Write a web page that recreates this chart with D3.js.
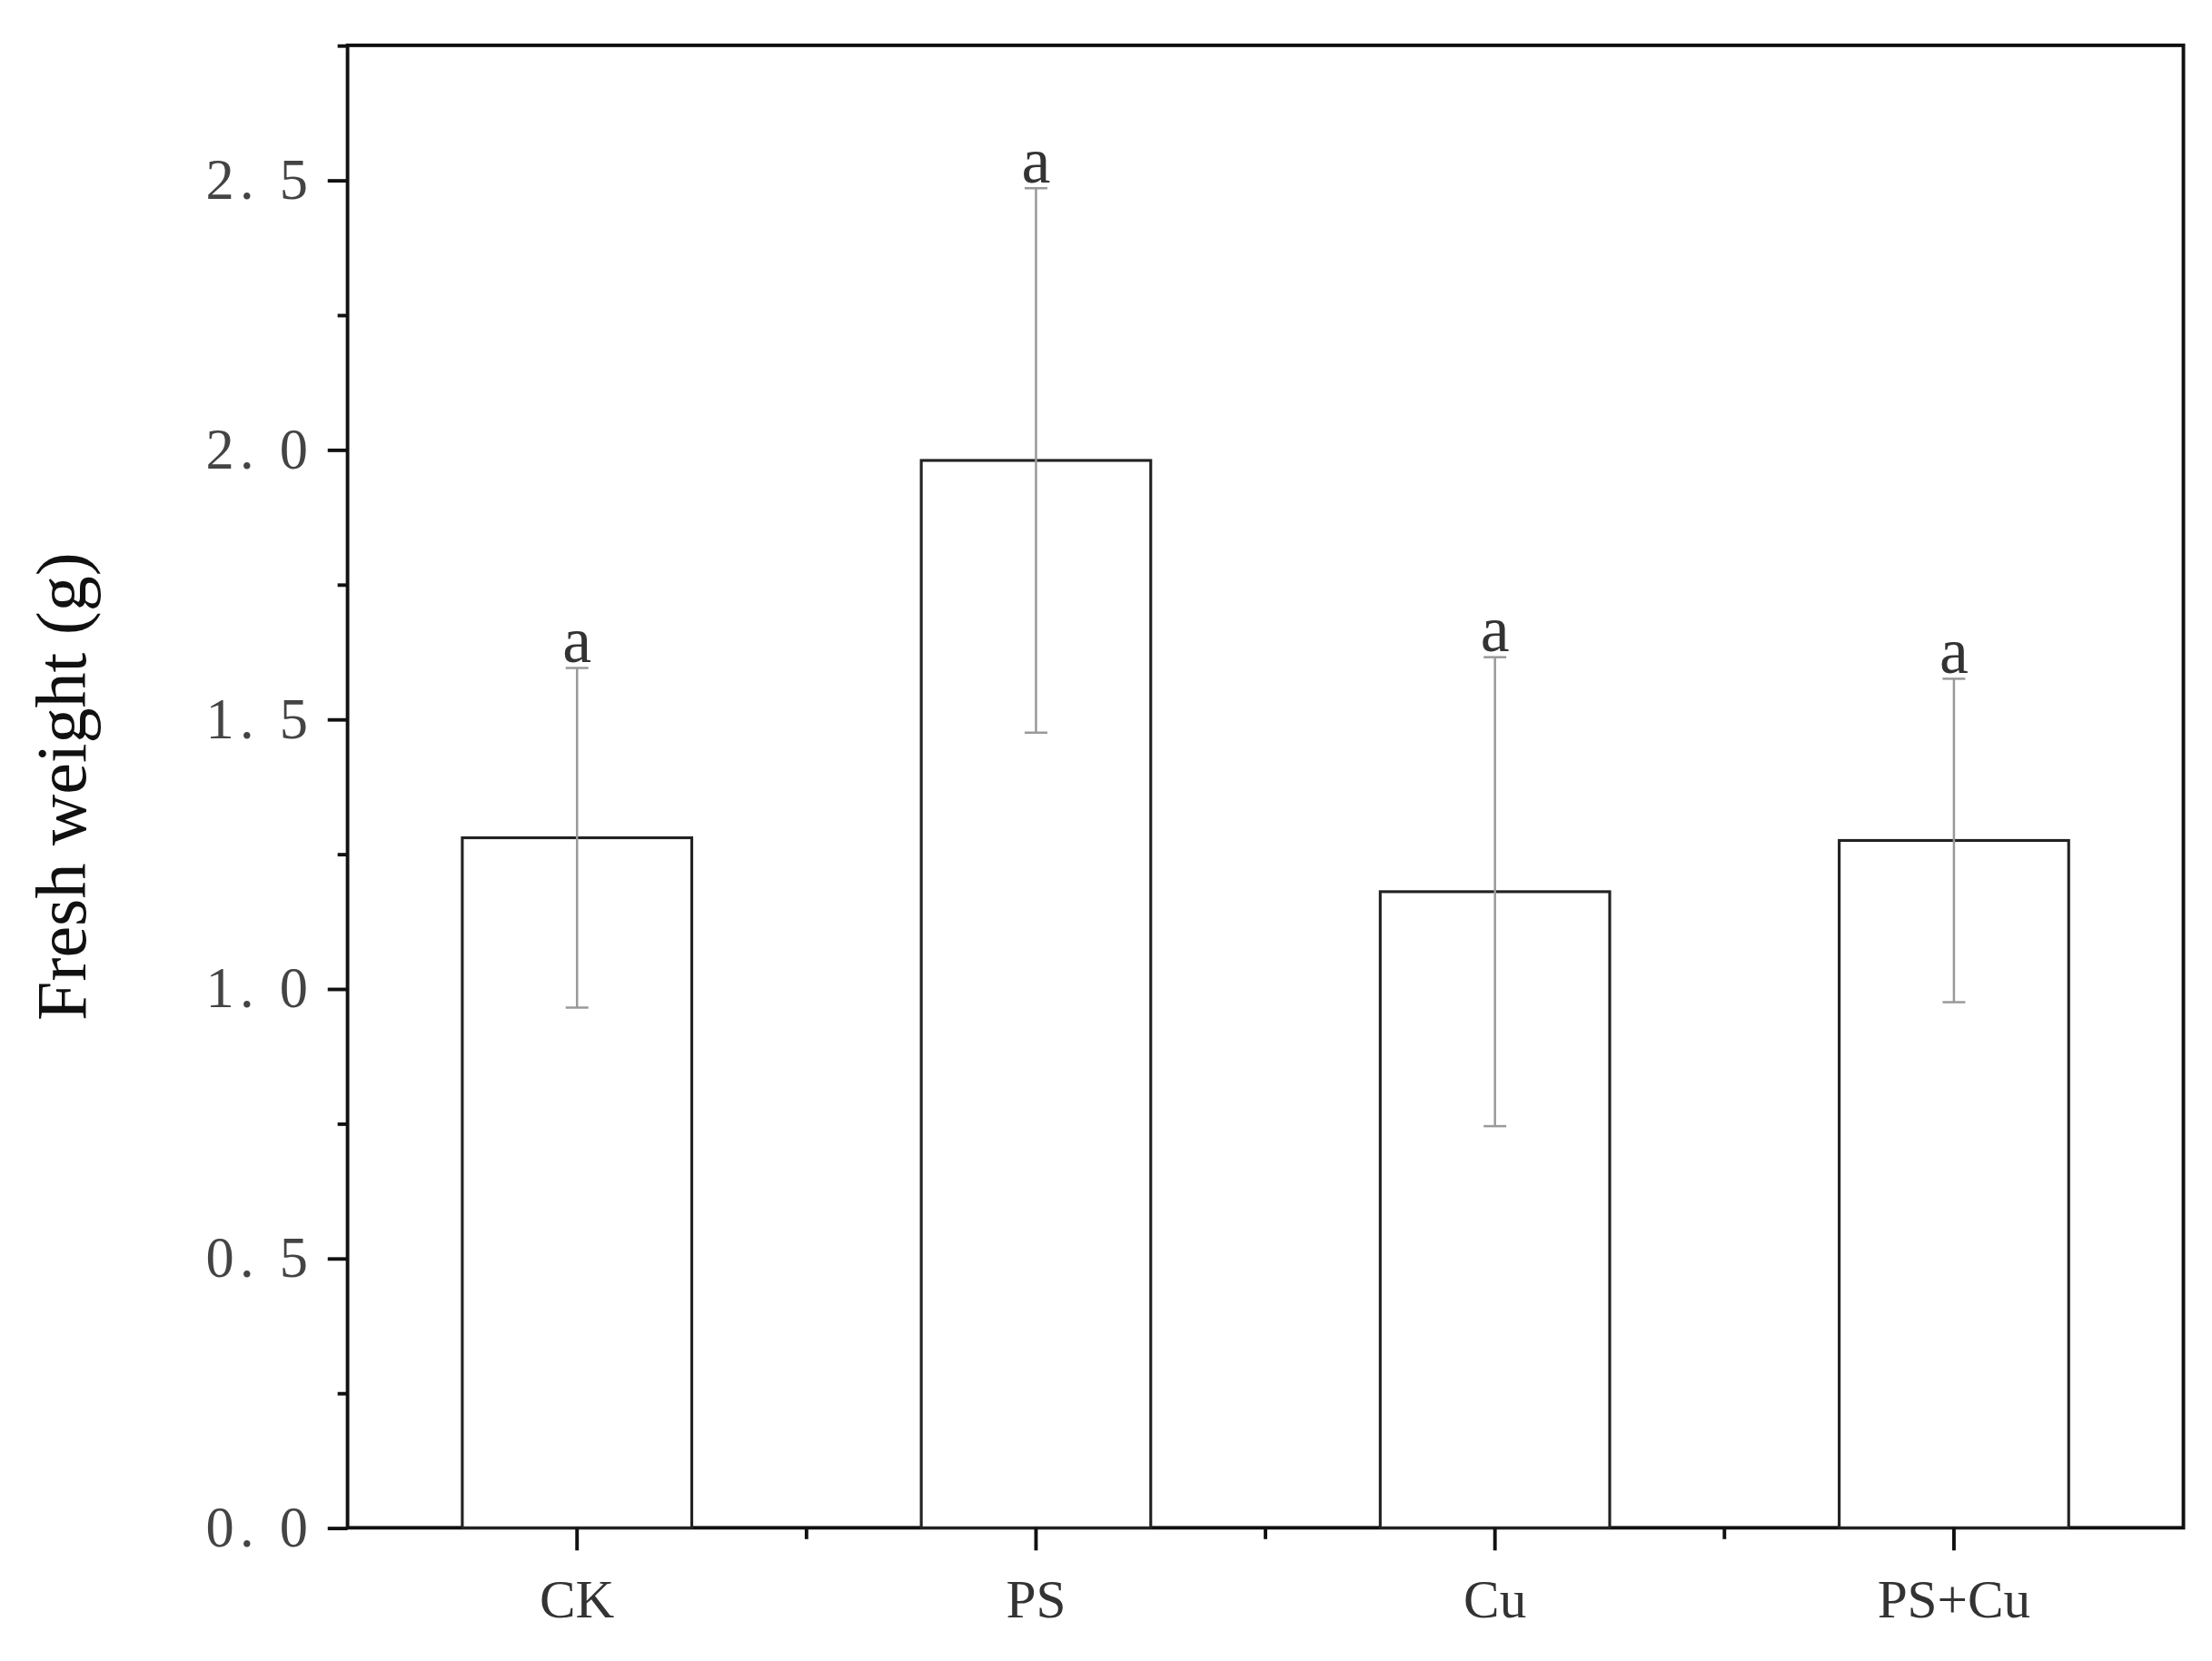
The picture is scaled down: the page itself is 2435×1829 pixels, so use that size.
<!DOCTYPE html>
<html><head><meta charset="utf-8">
<script src="https://cdn.jsdelivr.net/npm/d3@7"></script>
<style>body{margin:0;background:#fff}</style>
</head><body>
<script>
// data
let categories = ["CK", "PS", "Cu", "PS+Cu"];
let means = [1.28, 1.98, 1.18, 1.275];
let errors = [0.315, 0.505, 0.435, 0.30];
let letters = ["a", "a", "a", "a"];
let y_ticks = [0, 0.5, 1.0, 1.5, 2.0, 2.5];
let y_minor = [0.25, 0.75, 1.25, 1.75, 2.25, 2.75];

let serif = "'Liberation Serif', 'DejaVu Serif', serif";

// layout in 1560-wide units, scaled to the window by the viewBox
let W = 1560, H = 1172;
let margin = {top: 32, right: 20, bottom: 94, left: 245};

let svg = d3.select("body").append("svg")
    .attr("width", 2435).attr("height", 1829)
    .attr("viewBox", `0 0 ${W} ${H}`)
    .style("font-family", serif);

let x = d3.scaleBand().domain(categories)
    .range([margin.left, W - margin.right]).padding(0.5).paddingOuter(0.25);
let y = d3.scaleLinear().domain([0, 2.75]).range([H - margin.bottom, margin.top]);

// frame
svg.append("rect")
    .attr("x", margin.left).attr("y", margin.top)
    .attr("width", W - margin.right - margin.left)
    .attr("height", H - margin.bottom - margin.top)
    .attr("fill", "none").attr("stroke", "#111").attr("stroke-width", 2.5);

// bars
svg.selectAll(".bar").data(categories).join("rect")
    .attr("x", d => x(d)).attr("width", x.bandwidth())
    .attr("y", (d, i) => y(means[i]))
    .attr("height", (d, i) => y(0) - y(means[i]))
    .attr("fill", "#fff").attr("stroke", "#222").attr("stroke-width", 2);

// error bars
let cx = d => x(d) + x.bandwidth() / 2;
let eb = svg.append("g").attr("stroke", "#999").attr("stroke-width", 1.6);
categories.forEach((c, i) => {
    let lo = y(means[i] - errors[i]), hi = y(means[i] + errors[i]);
    eb.append("line").attr("x1", cx(c)).attr("x2", cx(c)).attr("y1", lo).attr("y2", hi);
    eb.append("line").attr("x1", cx(c) - 8).attr("x2", cx(c) + 8).attr("y1", lo).attr("y2", lo);
    eb.append("line").attr("x1", cx(c) - 8).attr("x2", cx(c) + 8).attr("y1", hi).attr("y2", hi);
    svg.append("text").attr("x", cx(c)).attr("y", hi - 4)
        .attr("text-anchor", "middle").attr("font-size", 46).attr("fill", "#333")
        .text(letters[i]);
});

// y axis
let ya = svg.append("g").attr("transform", `translate(${margin.left},0)`)
    .call(d3.axisLeft(y).tickValues(y_ticks).tickSize(14).tickPadding(10)
        .tickFormat(d => d3.format(".1f")(d).replace(".", ". ")));
ya.selectAll("text").attr("font-size", 40).attr("fill", "#444")
    .attr("font-family", serif).attr("letter-spacing", 4);
let ym = svg.append("g").attr("transform", `translate(${margin.left},0)`)
    .call(d3.axisLeft(y).tickValues(y_minor).tickSize(7).tickFormat(""));
[ya, ym].forEach(g => {
    g.selectAll(".domain").remove();
    g.selectAll("line").attr("stroke", "#111").attr("stroke-width", 2.5);
});

// x axis
let xa = svg.append("g").attr("transform", `translate(0,${y(0)})`)
    .call(d3.axisBottom(x).tickSize(16).tickPadding(20));
xa.selectAll(".domain").remove();
xa.selectAll("line").attr("stroke", "#111").attr("stroke-width", 2.5);
xa.selectAll("text").attr("font-size", 38).attr("fill", "#333").attr("font-family", serif);
let step = x.step();
let mids = categories.slice(1).map(c => cx(c) - step / 2);
svg.append("g").selectAll("line").data(mids).join("line")
    .attr("x1", d => d).attr("x2", d => d).attr("y1", y(0)).attr("y2", y(0) + 8)
    .attr("stroke", "#111").attr("stroke-width", 2.5);

// y label
svg.append("text")
    .attr("transform", `translate(60,${(margin.top + H - margin.bottom) / 2}) rotate(-90)`)
    .attr("text-anchor", "middle").attr("font-size", 50).attr("fill", "#111")
    .text("Fresh weight (g)");
</script>
</body></html>
